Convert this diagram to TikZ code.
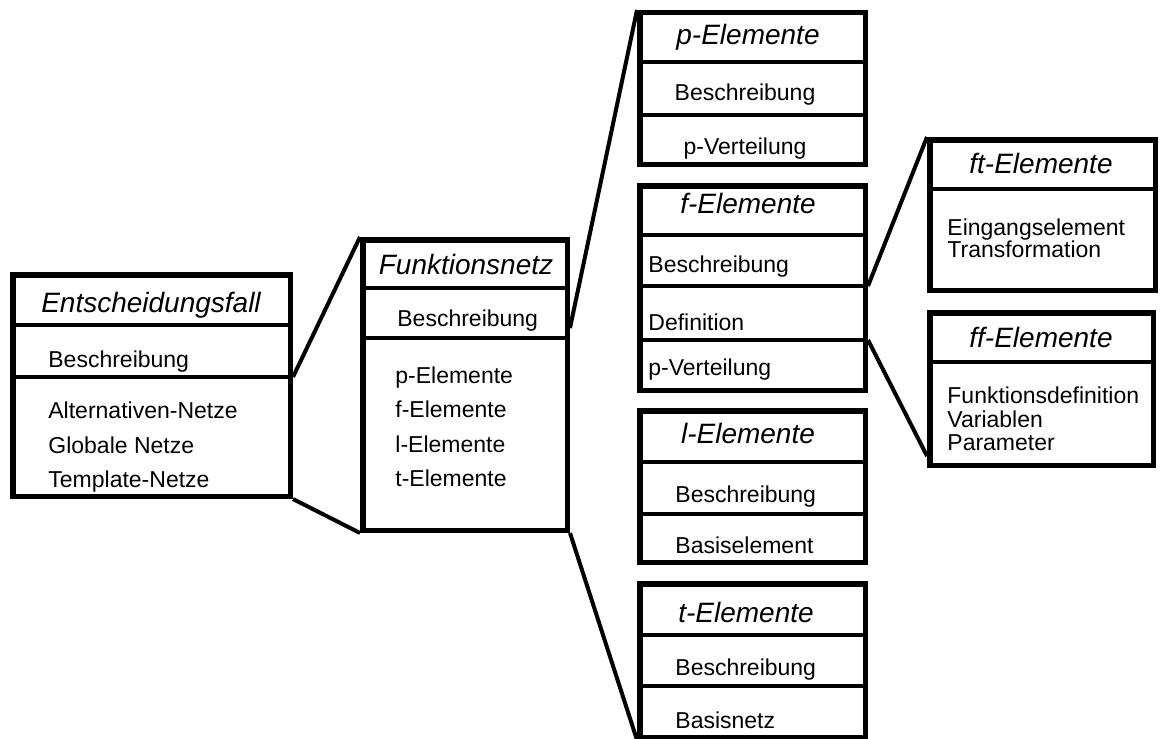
\documentclass[tikz,border=0pt]{standalone}
\usepackage{fontspec}
\setmainfont{Liberation Sans}
\usetikzlibrary{calc}

\tikzset{
  frame/.style={draw, rectangle, line width=2.75pt, inner sep=0pt},
  divider/.style={line width=1.6pt},
  conn/.style={line width=2pt},
  head/.style={anchor=base, inner sep=0pt, font=\fontsize{14}{16}\selectfont\itshape},
  item/.style={anchor=base west, inner sep=0pt, font=\fontsize{11.5}{13}\selectfont},
  citem/.style={item, anchor=base},
}

% box given by its outer edges (x1,y1)-(x2,y2), in pixel units, y downwards
\newcommand\umlbox[5]{%
  \node[frame,
        minimum width={(#4-#2)*0.5pt-2.75pt},
        minimum height={(#5-#3)*0.5pt-2.75pt}]
        (#1) at ({(#2+#4)/2},{(#3+#5)/2}) {};}
% horizontal compartment line of box #2 at height #3, level named #1
\newcommand\compline[3]{%
  \coordinate (#1) at (0,#3);
  \draw[divider] (#2.west |- #1) -- (#2.east |- #1);}

\begin{document}
\begin{tikzpicture}[x=0.5pt, y=-0.5pt]
  \fill[white] (0,0) rectangle (1160,738);
  \useasboundingbox (0,0) rectangle (1160,738);

  % ---------- Entscheidungsfall ----------
  \umlbox{E}{10}{272}{293}{499}
  \compline{E-d1}{E}{325}
  \compline{E-d2}{E}{377}
  \node[head] (E-h) at (151,312) {Entscheidungsfall};
  \node[item] (E-1) at (48,367) {Beschreibung};
  \node[item] (E-2) at (48,418) {Alternativen-Netze};
  \node[item] (E-3) at (48,453) {Globale Netze};
  \node[item] (E-4) at (48,487) {Template-Netze};

  % ---------- Funktionsnetz ----------
  \umlbox{F}{360}{237}{570}{533}
  \compline{F-d1}{F}{288}
  \compline{F-d2}{F}{338}
  \coordinate (F-c) at (0,328);
  \node[head] (F-h) at (466,274) {Funktionsnetz};
  \node[item] (F-1) at (397,326) {Beschreibung};
  \node[item] (F-2) at (395,383) {p-Elemente};
  \node[item] (F-3) at (395,417) {f-Elemente};
  \node[item] (F-4) at (395,452) {l-Elemente};
  \node[item] (F-5) at (395,486) {t-Elemente};

  % ---------- p-Elemente ----------
  \umlbox{P}{637}{10}{868}{167}
  \compline{P-d1}{P}{62}
  \compline{P-d2}{P}{115}
  \node[head] (P-h) at (748,45) {p-Elemente};
  \node[citem] (P-1) at (745,101) {Beschreibung};
  \node[citem] (P-2) at (745,155) {p-Verteilung};

  % ---------- f-Elemente ----------
  \umlbox{Fe}{637}{183}{868}{393}
  \compline{Fe-d1}{Fe}{235}
  \compline{Fe-d2}{Fe}{286}
  \compline{Fe-d3}{Fe}{340}
  \node[head] (Fe-h) at (748,213) {f-Elemente};
  \node[item] (Fe-1) at (648,272) {Beschreibung};
  \node[item] (Fe-2) at (648,330) {Definition};
  \node[item] (Fe-3) at (648,375) {p-Verteilung};

  % ---------- l-Elemente ----------
  \umlbox{L}{637}{408}{868}{565}
  \compline{L-d1}{L}{462}
  \compline{L-d2}{L}{514}
  \node[head] (L-h) at (748,443) {l-Elemente};
  \node[item] (L-1) at (675,502) {Beschreibung};
  \node[item] (L-2) at (675,553) {Basiselement};

  % ---------- t-Elemente ----------
  \umlbox{T}{637}{581}{868}{740}
  \compline{T-d1}{T}{635}
  \compline{T-d2}{T}{686}
  \node[head] (T-h) at (746,622) {t-Elemente};
  \node[item] (T-1) at (675,675) {Beschreibung};
  \node[item] (T-2) at (675,728) {Basisnetz};

  % ---------- ft-Elemente ----------
  \umlbox{FT}{927}{137}{1158}{293}
  \compline{FT-d1}{FT}{189}
  \node[head] (FT-h) at (1041,173) {ft-Elemente};
  \node[item] (FT-1) at (947,235) {Eingangselement};
  \node[item] (FT-2) at (947,257) {Transformation};

  % ---------- ff-Elemente ----------
  \umlbox{FF}{927}{310}{1156}{468}
  \compline{FF-d1}{FF}{362}
  \node[head] (FF-h) at (1041,347) {ff-Elemente};
  \node[item] (FF-1) at (947,403) {Funktionsdefinition};
  \node[item] (FF-2) at (947,427) {Variablen};
  \node[item] (FF-3) at (947,450) {Parameter};

  % ---------- expansion lines ----------
  \draw[conn] (E.east |- E-d2) -- (F.north west);
  \draw[conn] (E.south east) -- (F.south west);
  \draw[conn] (F.east |- F-c) -- (P.north west);
  \draw[conn] (F.south east) -- (T.south west);
  \draw[conn] (Fe.east |- Fe-d2) -- (FT.north west);
  \draw[conn] (Fe.east |- Fe-d3) -- ($(FF.south west)+(0,-12)$);
\end{tikzpicture}
\end{document}
